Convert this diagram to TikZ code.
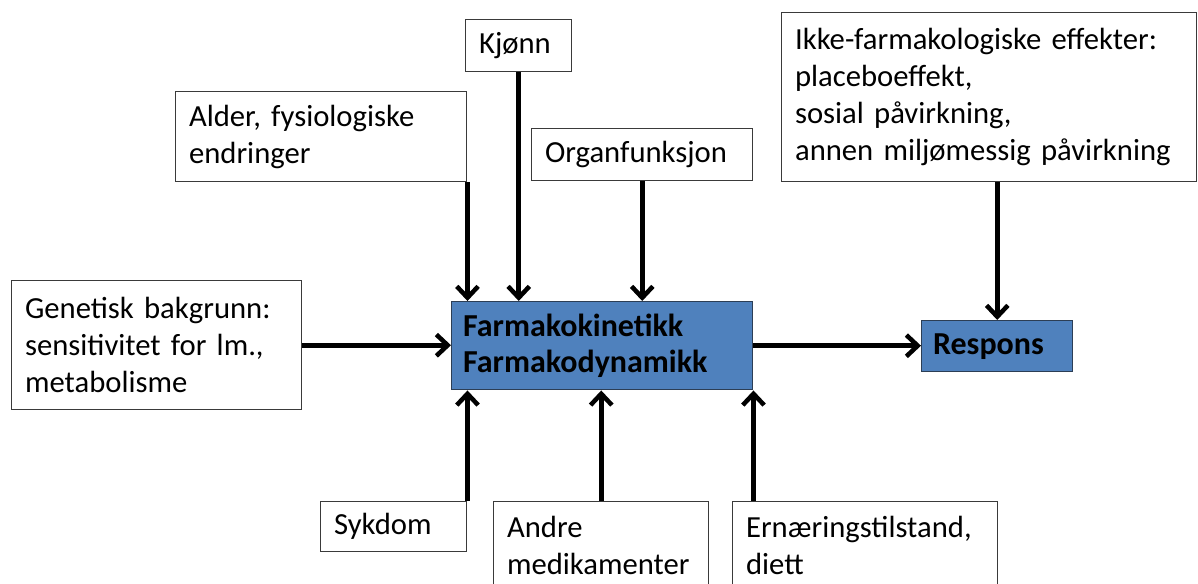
\documentclass[tikz,border=0pt]{standalone}
\usepackage{fontspec}
\setmainfont{Carlito}
\usetikzlibrary{arrows.meta}
\definecolor{boxline}{HTML}{3A3A3A}
\definecolor{bluefill}{HTML}{4F81BD}
\definecolor{blueline}{HTML}{2C3E55}
\tikzset{
  box/.style={draw=boxline, line width=1.1pt, fill=white, anchor=north west,
    inner xsep=10pt, inner ysep=0pt, align=left,
    font=\fontsize{23pt}{27.75pt}\selectfont},
  bluebox/.style={box, draw=blueline, fill=bluefill, font=\fontsize{24pt}{26.5pt}\selectfont\bfseries},
  arr/.style={line width=3.4pt, -{Straight Barb[length=8.5pt,width=16pt]}}
}
\begin{document}
\begin{tikzpicture}[x=0.75pt,y=-0.75pt]
\useasboundingbox (0,0) rectangle (1198,584);
\begin{scope}
\clip (0,0) rectangle (1198,584);
\node[box, minimum width=218.25pt, minimum height=67.5pt, text width=198.25pt] (alder) at (175,91) {Alder, fysiologiske\\endringer};
\node[box, minimum width=79.5pt, minimum height=39pt, text width=59.5pt] (kjonn) at (465,19) {Kjønn};
\node[box, minimum width=165.75pt, minimum height=39pt, text width=145.75pt] (organ) at (531,128) {Organfunksjon};
\node[box, minimum width=311.25pt, minimum height=126.75pt, text width=291.25pt] (ikke) at (781,12) {Ikke-farmakologiske effekter:\\placeboeffekt,\\sosial påvirkning,\\annen miljømessig påvirkning};
\node[box, minimum width=217.5pt, minimum height=96.75pt, text width=197.5pt] (gen) at (11,280) {Genetisk bakgrunn:\\sensitivitet for lm.,\\metabolisme};
\node[bluebox, minimum width=225.75pt, minimum height=66pt, text width=208.75pt, inner xsep=8.5pt] (central) at (451,301) {Farmakokinetikk\\Farmakodynamikk};
\node[bluebox, minimum width=113.25pt, minimum height=38.25pt, text width=96.25pt, inner xsep=8.5pt] (respons) at (921,320) {Respons};
\node[box, minimum width=109.5pt, minimum height=37.5pt, text width=89.5pt] (sykdom) at (320,501) {Sykdom};
\node[box, minimum width=161.25pt, minimum height=65.25pt, text width=141.25pt] (andre) at (493,501) {Andre\\medikamenter};
\node[box, minimum width=198.75pt, minimum height=65.25pt, text width=178.75pt] (ern) at (732,501) {Ernæringstilstand,\\diett};

\draw[arr] (alder.south east) -- (alder.south east |- central.north);
\draw[arr] (kjonn.south) -- (kjonn.south |- central.north);
\draw[arr] (organ.south) -- (organ.south |- central.north);
\draw[arr] (respons.north |- ikke.south) -- (respons.north);
\draw[arr] (gen.east) -- (gen.east -| central.west);
\draw[arr] (central.east) -- (central.east -| respons.west);
\draw[arr] (sykdom.north east) -- (sykdom.north east |- central.south);
\draw[arr] (andre.north) -- (andre.north |- central.south);
\draw[arr] (central.south east |- ern.north) -- (central.south east);
\end{scope}
\end{tikzpicture}
\end{document}
